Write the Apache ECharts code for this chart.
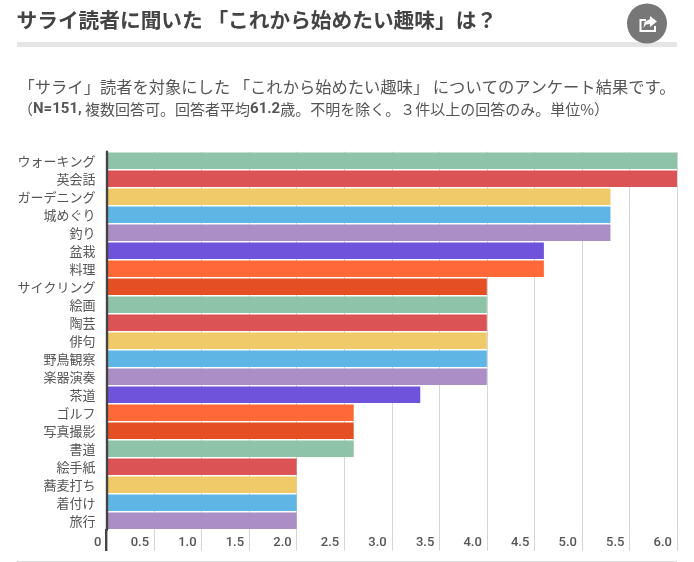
<!DOCTYPE html>
<html>
<head>
<meta charset="utf-8">
<style>
  html, body { margin: 0; padding: 0; background: #fff; }
  #chart { width: 694px; height: 562px; }
</style>
<script src="https://cdn.jsdelivr.net/npm/echarts@6/dist/echarts.min.js"></script>
</head>
<body>
<div id="chart"></div>
<script>
var categories = ['ウォーキング', '英会話', 'ガーデニング', '城めぐり', '釣り', '盆栽', '料理', 'サイクリング', '絵画', '陶芸', '俳句', '野鳥観察', '楽器演奏', '茶道', 'ゴルフ', '写真撮影', '書道', '絵手紙', '蕎麦打ち', '着付け', '旅行'];
var values = [6.0, 6.0, 5.3, 5.3, 5.3, 4.6, 4.6, 4.0, 4.0, 4.0, 4.0, 4.0, 4.0, 3.3, 2.6, 2.6, 2.6, 2.0, 2.0, 2.0, 2.0];
var palette = ['#8ec3a7', '#dc5356', '#f0ca68', '#5fb6e5', '#ab8ec5', '#6f53da', '#ff6937', '#e54f24'];

var jpFont = '"Noto Sans CJK JP", sans-serif';
var latinFont = 'Roboto, "Noto Sans CJK JP", sans-serif';

var myChart = echarts.init(document.getElementById('chart'));
var option = {
  animation: false,
  title: [
    {
      text: 'サライ読者に聞いた 「これから始めたい趣味」は？',
      left: 16.5, top: 9.5, padding: 0,
      textStyle: { fontFamily: jpFont, fontWeight: 'bold', fontSize: 20.7, color: '#444' }
    },
    {
      text: '「サライ」読者を対象にした 「これから始めたい趣味」 についてのアンケート結果です。',
      left: 18.5, top: 79, padding: 0,
      textStyle: { fontFamily: jpFont, fontWeight: 'normal', fontSize: 16.3, color: '#555' }
    },
    {
      text: '（{b|N=151,} 複数回答可。回答者平均{b|61.2}歳。不明を除く。３件以上の回答のみ。単位%）',
      left: 18, top: 102, padding: 0,
      textStyle: {
        fontFamily: jpFont, fontWeight: 'normal', fontSize: 15, color: '#555',
        rich: { b: { fontFamily: latinFont, fontWeight: 'bold', fontSize: 15, color: '#555' } }
      }
    }
  ],
  grid: { left: 106.5, top: 151.7, width: 570.5, height: 378, containLabel: false },
  xAxis: {
    type: 'value',
    min: 0, max: 6, interval: 0.5,
    axisLine: { show: false },
    axisTick: { show: true, length: 21, lineStyle: { color: '#d5d5d5', width: 1 } },
    splitLine: { show: true, lineStyle: { color: '#d5d5d5', width: 1 } },
    axisLabel: {
      fontFamily: latinFont, fontSize: 13, fontWeight: 500, color: '#555', margin: 7,
      align: 'right', padding: [0, 5, 0, 0], showMinLabel: true, showMaxLabel: true,
      formatter: function (v) { return v === 0 ? '0' : v.toFixed(1); }
    }
  },
  yAxis: {
    type: 'category',
    inverse: true,
    z: 5,
    data: categories,
    axisLine: { show: true, lineStyle: { color: '#444', width: 2.4 } },
    axisTick: { show: false },
    splitLine: { show: false },
    axisLabel: { fontFamily: jpFont, fontSize: 13, color: '#555', margin: 11, padding: [0, 0, 3, 0], interval: 0 }
  },
  series: [{
    type: 'bar',
    data: values,
    barCategoryGap: '8%',
    itemStyle: {
      color: function (p) { return palette[p.dataIndex % palette.length]; }
    }
  }],
  graphic: [
    // header rule, footer rule, lower end of the y axis line
    { type: 'rect', shape: { x: 17, y: 42, width: 660, height: 5 }, style: { fill: '#e6e6e6' } },
    { type: 'rect', shape: { x: 17, y: 561, width: 660, height: 1 }, style: { fill: '#dcdcdc' } },
    { type: 'rect', z: 10, shape: { x: 105, y: 529, width: 2.4, height: 22 }, style: { fill: '#444' } },
    // share button
    { type: 'circle', shape: { cx: 647, cy: 23.5, r: 20 }, style: { fill: '#777' } },
    {
      type: 'polyline',
      shape: { points: [[646, 20], [640.5, 20], [640.5, 31], [655, 31], [655, 26]] },
      style: { stroke: '#fff', lineWidth: 2, fill: null }
    },
    {
      type: 'polygon',
      shape: { points: [[650, 16], [657, 21.5], [650, 27], [650, 24], [646, 24.5], [643.5, 28], [644.5, 22], [650, 19]] },
      style: { fill: '#fff' }
    }
  ]
};
option && myChart.setOption(option);
</script>
</body>
</html>
